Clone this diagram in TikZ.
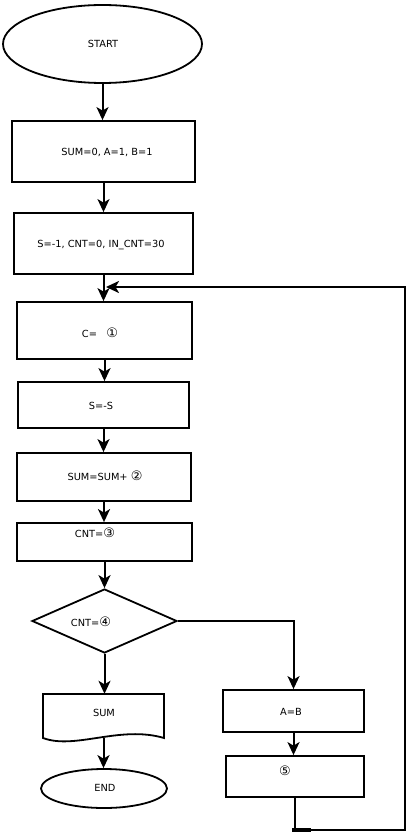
\documentclass[tikz,border=0pt]{standalone}
\usepackage{fontspec}
\setmainfont{DejaVu Sans}
\usetikzlibrary{shapes.geometric,arrows.meta}
\newcommand{\cnum}[1]{{\fontsize{13}{13}\selectfont #1}}
\begin{document}
\begin{tikzpicture}[x=1pt,y=-1pt,
  shp/.style={draw,line width=1.8pt,inner sep=0pt},
  box/.style={shp,rectangle},
  lbl/.style={font=\fontsize{9.8}{10}\selectfont,inner sep=0pt},
  tip/.style={-{Stealth[length=13pt,width=12pt,inset=3.5pt]}},
  arr/.style={line width=2pt,tip},
  ln/.style={line width=1.8pt},
  loopln/.style={line width=2.4pt}]
\useasboundingbox (0,0) rectangle (411,834);
% shapes
\node[shp,ellipse,minimum width=199pt,minimum height=78pt] (start) at (102.5,44) {};
\node[box,minimum width=183pt,minimum height=61pt] (b1) at (103.5,151.5) {};
\node[box,minimum width=179pt,minimum height=61pt] (b2) at (103.5,243.5) {};
\node[box,minimum width=175pt,minimum height=57pt] (b3) at (104.5,330.5) {};
\node[box,minimum width=171pt,minimum height=46pt] (b4) at (103.5,405) {};
\node[box,minimum width=174pt,minimum height=48pt] (b5) at (104,477) {};
\node[box,minimum width=175pt,minimum height=38pt] (b6) at (104.5,542) {};
\node[shp,diamond,aspect=2.27,minimum width=145pt,minimum height=64pt] (dia) at (104.5,621) {};
\node[inner sep=0pt,minimum width=121pt,minimum height=44pt] (doc) at (103.5,716) {};
\draw[ln] (43,694) -- (164,694) -- (164,738) .. controls (120,725) and (75,750) .. (43,738) -- cycle;
\node[shp,ellipse,minimum width=126pt,minimum height=39pt] (end) at (104,788.5) {};
\node[box,minimum width=141pt,minimum height=42pt] (ab) at (293.5,711) {};
\node[box,minimum width=138pt,minimum height=41pt] (five) at (295,776.5) {};
% texts
\node[lbl] (tstart) at (103,44) {START};
\node[lbl] (t1) at (107,152) {SUM=0, A=1, B=1};
\node[lbl] (t2) at (101,245) {S=-1, CNT=0, IN\_CNT=30};
\node[lbl] (t3) at (100,333) {C=\ \ \ \cnum{①}};
\node[lbl] (t4) at (101,406) {S=-S};
\node[lbl] (t5) at (105,476) {SUM=SUM+ \cnum{②}};
\node[lbl] (t6) at (95,533) {CNT=\cnum{③}};
\node[lbl] (t7) at (91,622) {CNT=\cnum{④}};
\node[lbl] (t8) at (104,713) {SUM};
\node[lbl] (t9) at (291,712) {A=B};
\node[lbl] (t10) at (285,771) {\cnum{⑤}};
\node[lbl] (t11) at (105,788) {END};
% connectors
\draw[arr] (start.south) -- (start.south |- b1.north);
\draw[arr] (b1.south) -- (b1.south |- b2.north);
\draw[arr] (b2.south) -- (b2.south |- b3.north);
\draw[arr] (b3.south) -- (b3.south |- b4.north);
\draw[arr] (b4.south) -- (b4.south |- b5.north);
\draw[arr] (b5.south) -- (b5.south |- b6.north);
\draw[arr] (b6.south) -- (b6.south |- dia.north);
\draw[arr] (dia.south) -- (dia.south |- doc.north);
\draw[arr] (doc.south) -- (doc.south |- end.north);
\draw[arr] (dia.east) -| (ab.north);
\draw[arr] (ab.south) -- (ab.south |- five.north);
\coordinate (lb) at (294,830);
\coordinate (rb) at (405,830);
\coordinate (rt) at (405,287);
\coordinate (lt) at (106,287);
\draw[ln] (five.south) -- (five.south |- lb);
\draw[loopln,tip] (lb) -- (rb) -- (rt) -- (lt);
\draw[line width=3.5pt] (292,830) -- (311,830);
\end{tikzpicture}
\end{document}
